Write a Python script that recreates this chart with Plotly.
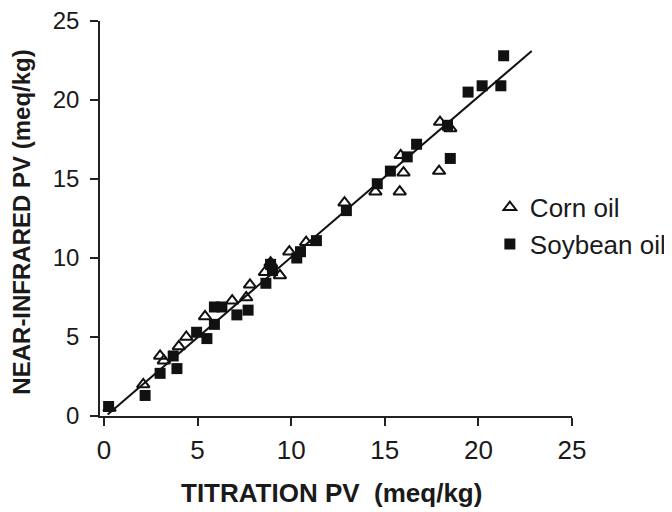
import plotly.graph_objects as go

corn_x = [0.3, 2.1, 3.0, 3.2, 4.0, 4.4, 5.4, 6.85, 7.6, 7.8, 8.6, 8.9, 9.4, 9.9, 10.8, 12.85, 14.5, 15.8, 15.85, 16.0, 17.9, 17.95, 18.5]
corn_y = [0.5, 2.0, 3.8, 3.5, 4.4, 5.0, 6.3, 7.3, 7.5, 8.3, 9.1, 9.7, 8.9, 10.4, 11.0, 13.5, 14.2, 14.2, 16.5, 15.4, 15.5, 18.6, 18.2]

soy_x = [0.25, 2.2, 3.0, 3.9, 3.7, 4.95, 5.5, 5.9, 5.9, 6.3, 7.1, 7.7, 8.65, 8.9, 9.0, 10.3, 10.5, 11.35, 12.95, 14.6, 15.3, 16.2, 16.7, 18.35, 18.5, 19.45, 20.2, 21.2, 21.35]
soy_y = [0.6, 1.3, 2.7, 3.0, 3.8, 5.3, 4.9, 5.8, 6.9, 6.9, 6.4, 6.7, 8.4, 9.6, 9.2, 10.0, 10.4, 11.1, 13.0, 14.7, 15.5, 16.4, 17.2, 18.4, 16.3, 20.5, 20.9, 20.9, 22.8]

fit_x = [0.2, 22.85]
fit_y = [0.1, 23.1]

fig = go.Figure()
fig.add_trace(go.Scatter(x=fit_x, y=fit_y, mode="lines", line=dict(color="#111", width=2),
                         showlegend=False, hoverinfo="skip"))
fig.add_trace(go.Scatter(x=soy_x, y=soy_y, mode="markers", name="Soybean oil",
                         marker=dict(symbol="square", size=11, color="#111",
                                     line=dict(width=0))))
fig.add_trace(go.Scatter(x=corn_x, y=corn_y, mode="markers", name="Corn oil",
                         marker=dict(symbol="triangle-up-open", size=11, color="#111",
                                     line=dict(width=2))))

font = "Liberation Sans, Arial, sans-serif"
fig.update_layout(
    width=680, height=512,
    margin=dict(l=92, r=116, t=13, b=104),
    paper_bgcolor="white", plot_bgcolor="white",
    font=dict(family=font, color="#1a1a1a", size=18),
    showlegend=True,
    legend=dict(x=0.826, y=0.588, xanchor="left", yanchor="top",
                traceorder="reversed", font=dict(size=26, family=font),
                itemwidth=30, tracegroupgap=4, bgcolor="rgba(0,0,0,0)"),
    xaxis=dict(range=[-0.21, 25], tickvals=[0, 5, 10, 15, 20, 25], automargin=False,
               showgrid=False, zeroline=False, showline=True, linecolor="#222", linewidth=1.5,
               ticks="outside", ticklen=8, tickcolor="#222", tickwidth=1.5,
               tickfont=dict(size=26, family=font), ticklabelstandoff=2,
               ticklabeloverflow="allow"),
    yaxis=dict(range=[0, 25], tickvals=[0, 5, 10, 15, 20, 25], automargin=False,
               showgrid=False, zeroline=False, showline=True, linecolor="#222", linewidth=1.5,
               ticks="outside", ticklen=8, tickcolor="#222", tickwidth=1.5,
               tickfont=dict(size=24, family=font), ticklabelstandoff=6,
               ticklabeloverflow="allow"),
    annotations=[
        dict(text="<b>TITRATION PV  (meq/kg)</b>", xref="paper", yref="paper",
             x=0.49, y=-0.195, xanchor="center", yanchor="middle", showarrow=False,
             font=dict(size=26, family=font, color="#1a1a1a")),
        dict(text="<b>NEAR-INFRARED PV (meq/kg)</b>", xref="paper", yref="paper",
             x=-0.167, y=0.49, xanchor="center", yanchor="middle", showarrow=False,
             textangle=-90, font=dict(size=24, family=font, color="#1a1a1a")),
    ],
)

fig.write_html("out.html")
